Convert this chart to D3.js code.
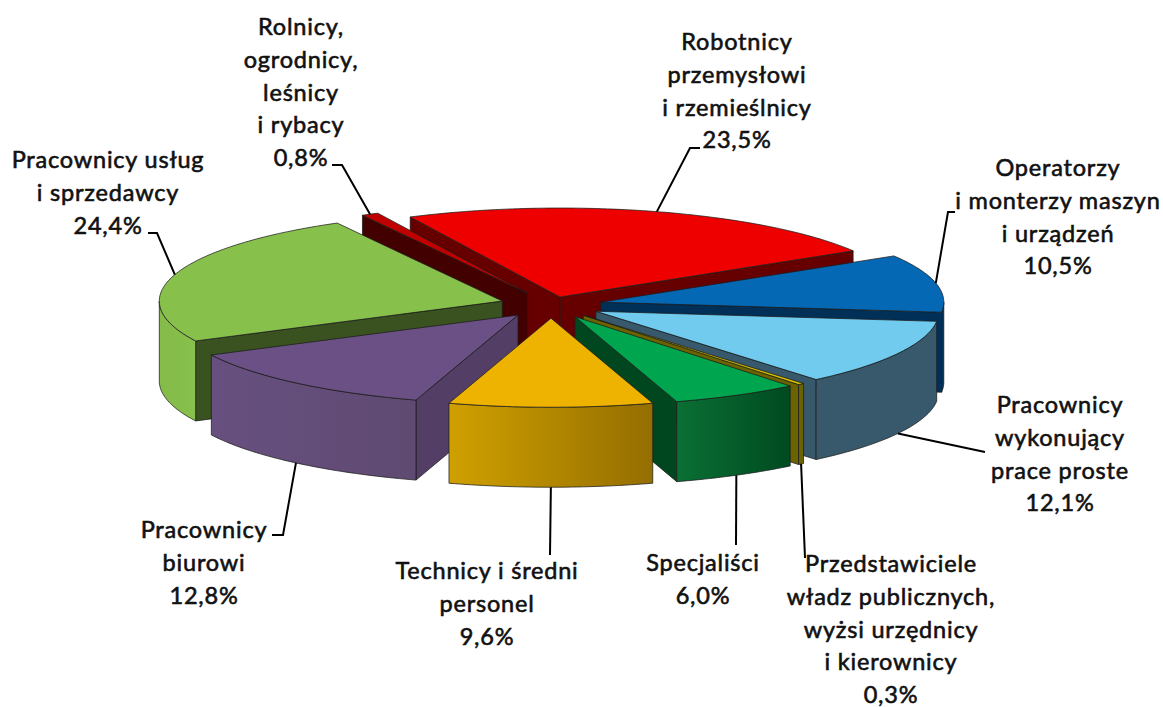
<!DOCTYPE html>
<html>
<head>
<meta charset="utf-8">
<script src="https://cdn.jsdelivr.net/npm/d3@7"></script>
<style>
html, body { margin: 0; padding: 0; background: #fff; }
text { font-family: Lato, "Open Sans", sans-serif; font-size: 23.5px; font-weight: 400; letter-spacing: 0.8px; fill: #111; stroke: #111; stroke-width: 0.6px; }
</style>
</head>
<body>
<div id="chart"></div>
<script>
const categories = [
    ["Robotnicy", "przemysłowi", "i rzemieślnicy"],
    ["Operatorzy", "i monterzy maszyn", "i urządzeń"],
    ["Pracownicy", "wykonujący", "prace proste"],
    ["Przedstawiciele", "władz publicznych,", "wyżsi urzędnicy", "i kierownicy"],
    ["Specjaliści"],
    ["Technicy i średni", "personel"],
    ["Pracownicy", "biurowi"],
    ["Pracownicy usług", "i sprzedawcy"],
    ["Rolnicy,", "ogrodnicy,", "leśnicy", "i rybacy"]
];
const values = [23.5, 10.5, 12.1, 0.3, 6.0, 9.6, 12.8, 24.4, 0.8];

// top face, radial wall, outer wall left and right end of the gradient
const topColors = ["#ee0000", "#0468b4", "#70cbee", "#d8c400", "#00a64f", "#eeb200", "#6a5084", "#88c04c", "#c00000"];
const wallColors = ["#660000", "#003057", "#38596b", "#6b6300", "#00471f", "#946e00", "#533f66", "#3a5220", "#420000"];
const rimLeft = ["#660000", "#003057", "#38596b", "#6b6300", "#0a7034", "#d0a000", "#67507f", "#84bb49", "#420000"];
const rimRight = ["#660000", "#003057", "#38596b", "#6b6300", "#004a20", "#946e00", "#5f4a72", "#88c04c", "#420000"];

// back to front
const drawOrder = [0, 8, 1, 7, 2, 6, 3, 4, 5];

// label centre x, first baseline y, elbow points of the leader line
const labelLayout = [
    { x: 737, y: 50, leader: [[690, 148], [700, 148]] },
    { x: 1058, y: 176, leader: [[948, 212], [955, 212]] },
    { x: 1060, y: 413, leader: [[985, 452]] },
    { x: 891, y: 572, leader: [[805, 558]] },
    { x: 703, y: 571, leader: [[736, 545]] },
    { x: 487, y: 579, leader: [[550, 555]] },
    { x: 204, y: 538, leader: [[283, 535], [272, 535]] },
    { x: 108, y: 168, leader: [[157, 233], [148, 233]] },
    { x: 301, y: 35, leader: [[342, 165], [332, 165]] }
];

const width = 1163, height = 707;
const cx = 551, cy = 305;
const rx = 343, ry = 89, depth = 80;
const explode = 51, explodeFirst = 32;
const rad = Math.PI / 180;
const startAngle = -25.9 * rad;

const svg = d3.select("#chart")
    .append("svg")
    .attr("width", width)
    .attr("height", height)
    .style("display", "block");

const defs = svg.append("defs");

const slices = d3.pie()
    .sort(null)
    .startAngle(startAngle)
    .endAngle(startAngle + 2 * Math.PI)(values);

const line = d3.line();

// apex of a slice after pulling it out of the pie
function apex(d, i) {
    const mid = (d.startAngle + d.endAngle) / 2;
    const e = i === 0 ? explodeFirst : explode;
    return [cx + e * Math.sin(mid), cy - e * (ry / rx) * Math.cos(mid)];
}

function rimPoint(a, angle, drop) {
    return [a[0] + rx * Math.sin(angle), a[1] - ry * Math.cos(angle) + (drop || 0)];
}

function arcPoints(a, from, to, drop) {
    const n = Math.max(2, Math.ceil((to - from) / rad));
    return d3.range(n + 1).map((k) => rimPoint(a, from + (to - from) * k / n, drop));
}

function wallPath(a, angle) {
    const rim = rimPoint(a, angle);
    return line([a, rim, [rim[0], rim[1] + depth], [a[0], a[1] + depth]]) + "Z";
}

const pieGroup = svg.append("g").attr("id", "pie");

drawOrder.forEach(function (i) {
    const d = slices[i];
    const a = apex(d, i);
    const g = pieGroup.append("g");

    const shape = (path, fill) => g.append("path")
        .attr("d", path)
        .attr("fill", fill)
        .attr("stroke", "#1c1c1c")
        .attr("stroke-opacity", 0.75)
        .attr("stroke-width", 1)
        .attr("stroke-linejoin", "round");

    // radial walls, only the ones facing us
    if (Math.sin(d.startAngle) < 0) shape(wallPath(a, d.startAngle), wallColors[i]);
    if (Math.sin(d.endAngle) > 0) shape(wallPath(a, d.endAngle), wallColors[i]);

    // outer wall, front half only
    const from = Math.max(d.startAngle, 90 * rad);
    const to = Math.min(d.endAngle, 270 * rad);
    if (to > from) {
        const grad = defs.append("linearGradient").attr("id", "rim" + i);
        grad.append("stop").attr("offset", "0%").attr("stop-color", rimLeft[i]);
        grad.append("stop").attr("offset", "100%").attr("stop-color", rimRight[i]);
        const upper = arcPoints(a, from, to);
        const lower = arcPoints(a, from, to, depth).reverse();
        shape(line(upper.concat(lower)) + "Z", "url(#rim" + i + ")");
    }

    // top face
    shape(line([a].concat(arcPoints(a, d.startAngle, d.endAngle))) + "Z", topColors[i]);
});

const labels = svg.append("g").attr("id", "labels");
const pct = (v) => v.toFixed(1).replace(".", ",") + "%";

slices.forEach(function (d, i) {
    const mid = (d.startAngle + d.endAngle) / 2;
    const front = Math.cos(mid) < 0;
    const a = apex(d, i);
    const start = rimPoint(a, mid, front ? depth : 0);
    const layout = labelLayout[i];

    labels.append("path")
        .attr("d", line([start].concat(layout.leader)))
        .attr("fill", "none")
        .attr("stroke", "#000")
        .attr("stroke-width", 2);

    const text = labels.append("text")
        .attr("x", layout.x)
        .attr("y", layout.y)
        .attr("text-anchor", "middle");

    categories[i].concat([pct(values[i])]).forEach(function (t, k) {
        text.append("tspan")
            .attr("x", layout.x)
            .attr("dy", k === 0 ? 0 : 32.8)
            .text(t);
    });
});
</script>
</body>
</html>
